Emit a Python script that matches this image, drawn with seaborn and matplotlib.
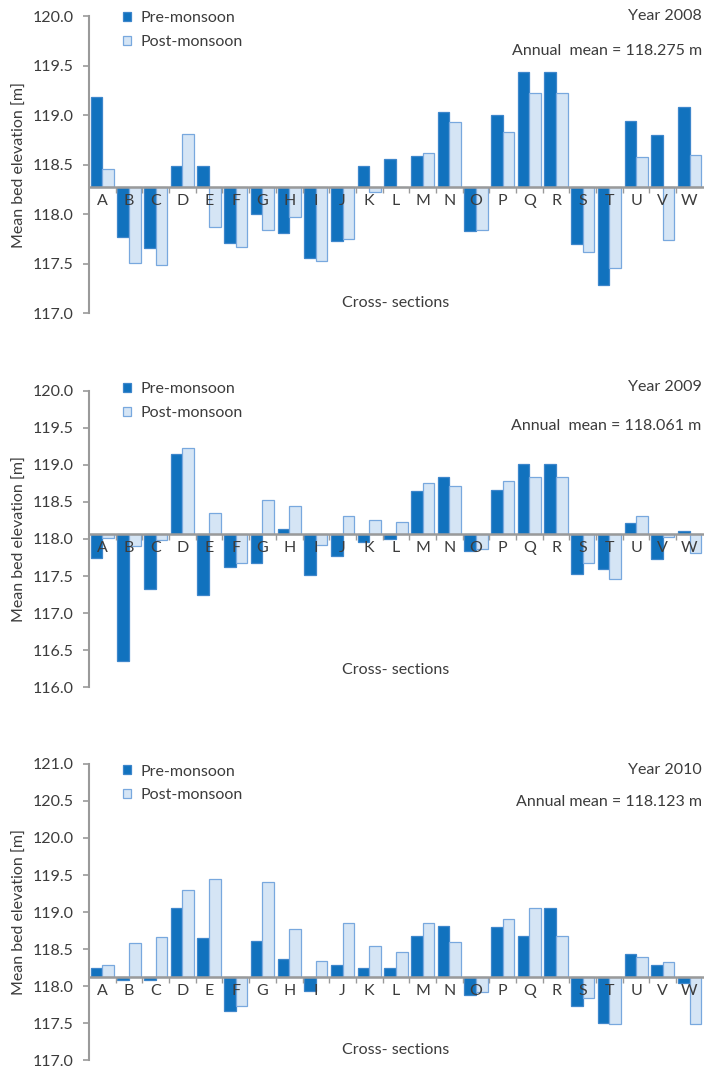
import numpy as np
import pandas as pd
import matplotlib
matplotlib.use("Agg")
import matplotlib.pyplot as plt
import seaborn as sns
from matplotlib.ticker import FixedLocator, FuncFormatter
from matplotlib.patches import Patch

# Cross-sections along the reach
sections = list("ABCDEFGHIJKLMNOPQRSTUVW")
seasons = ["Pre-monsoon", "Post-monsoon"]
years = [2008, 2009, 2010]
annual_means = [118.275, 118.061, 118.123]

# Mean bed elevation [m] per cross-section
pre_2008 = [119.18, 117.77, 117.66, 118.49, 118.49, 117.71, 118.00, 117.81, 117.56, 117.73,
            118.49, 118.56, 118.59, 119.03, 117.83, 119.00, 119.44, 119.44, 117.70, 117.28,
            118.94, 118.80, 119.08]
post_2008 = [118.46, 117.51, 117.49, 118.81, 117.87, 117.67, 117.84, 117.97, 117.53, 117.75,
             118.22, 118.275, 118.62, 118.93, 117.84, 118.83, 119.22, 119.22, 117.62, 117.46,
             118.58, 117.74, 118.60]

pre_2009 = [117.74, 116.36, 117.33, 119.14, 117.25, 117.62, 117.67, 118.13, 117.51, 117.77,
            117.96, 118.00, 118.64, 118.83, 117.84, 118.66, 119.01, 119.01, 117.53, 117.60,
            118.22, 117.73, 118.11]
post_2009 = [118.01, 117.90, 117.99, 119.22, 118.35, 117.68, 118.53, 118.45, 117.92, 118.31,
             118.25, 118.23, 118.75, 118.71, 117.87, 118.78, 118.84, 118.84, 117.68, 117.46,
             118.31, 118.02, 117.81]

pre_2010 = [118.24, 118.08, 118.08, 119.05, 118.65, 117.67, 118.61, 118.37, 117.94, 118.29,
            118.24, 118.25, 118.68, 118.81, 117.88, 118.80, 118.68, 119.06, 117.73, 117.51,
            118.44, 118.29, 118.05]
post_2010 = [118.29, 118.58, 118.66, 119.30, 119.44, 117.74, 119.40, 118.77, 118.34, 118.85,
             118.54, 118.46, 118.86, 118.60, 117.92, 118.91, 119.06, 118.68, 117.84, 117.49,
             118.40, 118.33, 117.49]

pre_values = [pre_2008, pre_2009, pre_2010]
post_values = [post_2008, post_2009, post_2010]
y_ranges = [(117.0, 120.0), (116.0, 120.0), (117.0, 121.0)]
mean_labels = ["Annual  mean = 118.275 m", "Annual  mean = 118.061 m", "Annual mean = 118.123 m"]

PRE = "#1172BE"
POST = "#D5E5F5"
PRE_EDGE = "#3D86CB"
POST_EDGE = "#78A8DE"
AXIS_GREY = "#9A9A9A"
TEXT = "#3C3C3C"
FS = 11.5

sns.set_theme(style="white")
plt.rcParams["font.family"] = ["Lato", "DejaVu Sans"]
plt.rcParams["text.color"] = TEXT
plt.rcParams["axes.labelcolor"] = TEXT
plt.rcParams["xtick.color"] = TEXT
plt.rcParams["ytick.color"] = TEXT

fig = plt.figure(figsize=(7.04, 10.69), dpi=100)
panel_bottoms = [0.7072, 0.3571, 0.0080]
xlabel_y = [0.034, 0.058, 0.036]
year_y = [1.0, 1.012, 0.979]
annual_y = [0.884, 0.881, 0.871]
legend_y = [1.04, 1.049, 1.019]

for k, year in enumerate(years):
    mean = annual_means[k]
    lo, hi = y_ranges[k]
    ax = fig.add_axes([0.1264, panel_bottoms[k], 0.872, 0.2775])

    df = pd.DataFrame({
        "section": sections * 2,
        "season": [seasons[0]] * len(sections) + [seasons[1]] * len(sections),
        "elevation": np.r_[pre_values[k], post_values[k]],
    })
    # bars hang from the annual mean
    df["deviation"] = df["elevation"] - mean

    sns.barplot(data=df, x="section", y="deviation", hue="season",
                order=sections, hue_order=seasons, palette=[PRE, POST],
                width=0.87, gap=0, saturation=1, errorbar=None,
                legend=False, ax=ax)
    for container, edge in zip(ax.containers, [PRE_EDGE, POST_EDGE]):
        for bar in container:
            bar.set_edgecolor(edge)
            bar.set_linewidth(0.9)

    # axis line and section letters sit on top of the bars
    ax.set_axisbelow(False)

    ax.set_xlim(-0.5, len(sections) - 0.5)
    ax.set_ylim(lo - mean, hi - mean)
    ticks = np.arange(lo, hi + 0.01, 0.5)
    ax.yaxis.set_major_locator(FixedLocator(ticks - mean))
    ax.yaxis.set_major_formatter(FuncFormatter(lambda v, p, m=mean: f"{v + m:.1f}"))

    for side in ("top", "right"):
        ax.spines[side].set_visible(False)
    ax.spines["left"].set_color(AXIS_GREY)
    ax.spines["left"].set_linewidth(1.5)
    ax.spines["bottom"].set_position(("data", 0))
    ax.spines["bottom"].set_color(AXIS_GREY)
    ax.spines["bottom"].set_linewidth(1.8)

    ax.tick_params(axis="y", direction="out", length=4, width=1.2,
                   color=AXIS_GREY, pad=7, labelsize=FS, left=True)
    ax.tick_params(axis="x", which="major", length=0, pad=5, labelsize=FS)
    ax.xaxis.set_minor_locator(FixedLocator(np.arange(0.5, len(sections) - 1, 1)))
    ax.tick_params(axis="x", which="minor", direction="out", length=4,
                   width=1, color=AXIS_GREY, bottom=True)

    ax.set_xlabel("")
    ax.set_ylabel("Mean bed elevation [m]", fontsize=FS, labelpad=4)
    ax.text(0.5, xlabel_y[k], "Cross- sections", transform=ax.transAxes,
            ha="center", va="center", fontsize=FS)
    ax.text(0.998, year_y[k], f"Year {year}", transform=ax.transAxes,
            ha="right", va="center", fontsize=FS)
    ax.text(0.998, annual_y[k], mean_labels[k], transform=ax.transAxes,
            ha="right", va="center", fontsize=FS)

    handles = [Patch(facecolor=PRE, edgecolor=PRE_EDGE, linewidth=0.9),
               Patch(facecolor=POST, edgecolor=POST_EDGE, linewidth=0.9)]
    ax.legend(handles, seasons, loc="upper left", bbox_to_anchor=(0.045, legend_y[k]),
              frameon=False, fontsize=FS, handlelength=0.5, handleheight=0.5,
              handletextpad=0.6, labelspacing=0.62, borderaxespad=0)

fig.savefig("out.png", dpi=100)
